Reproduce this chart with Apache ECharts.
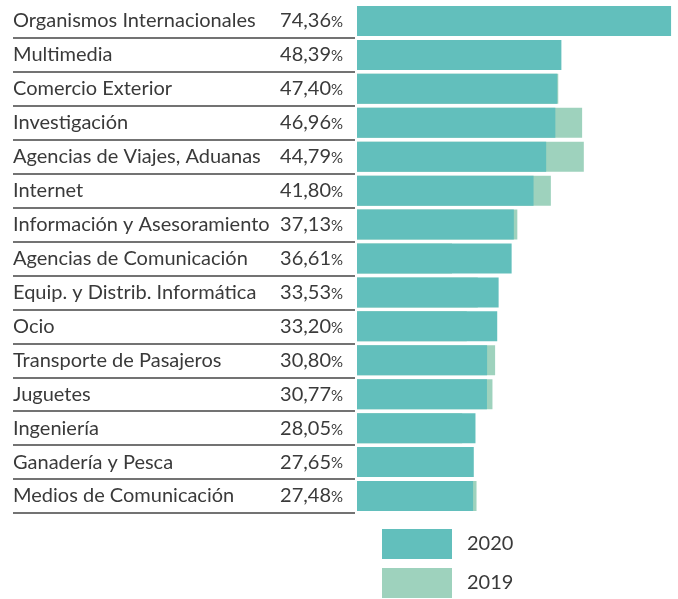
<!DOCTYPE html>
<html>
<head>
<meta charset="utf-8">
<script src="https://cdn.jsdelivr.net/npm/echarts@6/dist/echarts.min.js"></script>
<style>
  html, body { margin: 0; padding: 0; background: #fff; }
  #chart { width: 678px; height: 599px; }
</style>
</head>
<body>
<div id="chart"></div>
<script>
// Sector names, top to bottom
const categories = [
  'Organismos Internacionales',
  'Multimedia',
  'Comercio Exterior',
  'Investigación',
  'Agencias de Viajes, Aduanas',
  'Internet',
  'Información y Asesoramiento',
  'Agencias de Comunicación',
  'Equip. y Distrib. Informática',
  'Ocio',
  'Transporte de Pasajeros',
  'Juguetes',
  'Ingeniería',
  'Ganadería y Pesca',
  'Medios de Comunicación'
];
// Percentages per year
const values2020 = [74.36, 48.39, 47.40, 46.96, 44.79, 41.80, 37.13, 36.61, 33.53, 33.20, 30.80, 30.77, 28.05, 27.65, 27.48];
const values2019 = [64.8, 40.2, 47.65, 53.3, 53.7, 45.9, 37.96, 22.5, 28.6, 26.0, 32.7, 32.07, 24.9, 20.0, 28.3];
const seriesNames = ['2020', '2019'];

const TEAL = '#62bfbc';
const GREEN = '#9ed2bd';
const TEXT = '#3a3a3a';
const FONT = 'Lato';

const fmt = v => v.toFixed(2).replace('.', ',');

const chart = echarts.init(document.getElementById('chart'), null, { renderer: 'canvas' });

const option = {
  animation: false,
  textStyle: { fontFamily: FONT, color: TEXT },
  grid: [
    // bars
    { left: 357, top: 4, width: 321, height: 509 },
    // label column with row separators
    { left: 13, top: 4, width: 342, height: 509 }
  ],
  xAxis: [
    { gridIndex: 0, type: 'value', min: 0, max: 76, show: false },
    { gridIndex: 1, type: 'value', min: 0, max: 1, show: false }
  ],
  yAxis: [
    {
      gridIndex: 0,
      type: 'category',
      inverse: true,
      data: values2020.map(fmt),
      axisLine: { show: false },
      axisTick: { show: false },
      axisLabel: {
        margin: 14,
        formatter: v => '{n|' + v + '}{p|%}',
        rich: {
          n: { fontFamily: FONT, fontSize: 20, color: TEXT },
          p: { fontFamily: FONT, fontSize: 15, color: TEXT, padding: [3, 0, 0, 0] }
        }
      }
    },
    {
      gridIndex: 1,
      type: 'category',
      inverse: true,
      data: categories,
      axisLine: { show: false },
      axisTick: { show: false },
      axisLabel: {
        inside: true,
        margin: 0,
        align: 'left',
        fontFamily: FONT,
        fontSize: 20,
        color: TEXT
      },
      splitLine: {
        show: true,
        // no rule above the first row
        interval: idx => idx !== 0,
        lineStyle: { color: '#444', width: 1.5 }
      }
    }
  ],
  legend: {
    orient: 'vertical',
    left: 382,
    top: 529,
    padding: 0,
    itemWidth: 70,
    itemHeight: 30,
    itemGap: 9,
    icon: 'rect',
    data: seriesNames,
    textStyle: { fontFamily: FONT, fontSize: 20, color: TEXT, padding: [0, 0, 0, 10] },
    itemStyle: { borderWidth: 0 }
  },
  series: [
    {
      name: '2019',
      type: 'bar',
      xAxisIndex: 0,
      yAxisIndex: 0,
      data: values2019,
      barWidth: 30,
      barGap: '-100%',
      itemStyle: { color: GREEN },
      z: 2
    },
    {
      name: '2020',
      type: 'bar',
      xAxisIndex: 0,
      yAxisIndex: 0,
      data: values2020,
      barWidth: 30,
      barGap: '-100%',
      itemStyle: { color: TEAL },
      z: 3
    }
  ]
};

chart.setOption(option);
</script>
</body>
</html>
